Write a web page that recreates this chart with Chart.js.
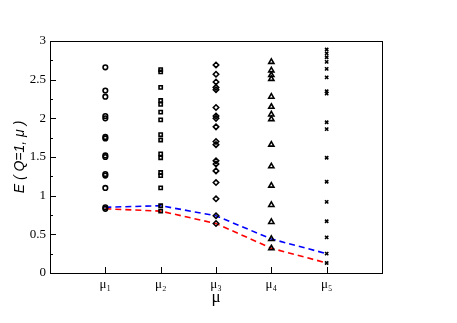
<!DOCTYPE html>
<html>
<head>
<meta charset="utf-8">
<script src="https://cdn.jsdelivr.net/npm/chart.js@4/dist/chart.umd.min.js"></script>
<style>
html,body{margin:0;padding:0;background:#fff;}
#wrap{width:457px;height:323px;}
</style>
</head>
<body>
<div id="wrap"><canvas id="c" width="457" height="323"></canvas></div>
<script>
const categories = ['μ₁','μ₂','μ₃','μ₄','μ₅'];
const yTicks = [0, 0.5, 1, 1.5, 2, 2.5, 3];
const mu1Levels = [2.66, 2.36, 2.28, 2.03, 2.0, 1.76, 1.74, 1.52, 1.50, 1.28, 1.26, 1.10, 0.85, 0.83];
const mu2Levels = [2.63, 2.60, 2.40, 2.23, 2.18, 2.08, 1.98, 1.79, 1.72, 1.54, 1.49, 1.30, 1.26, 1.10, 0.87, 0.80];
const mu3Levels = [2.69, 2.57, 2.47, 2.40, 2.37, 2.14, 2.03, 2.00, 1.89, 1.70, 1.66, 1.45, 1.41, 1.32, 1.17, 0.96, 0.74, 0.64];
const mu4Levels = [2.73, 2.62, 2.56, 2.51, 2.28, 2.15, 2.05, 1.99, 1.66, 1.38, 1.13, 0.88, 0.66, 0.44, 0.32];
const mu5Levels = [2.89, 2.84, 2.79, 2.73, 2.64, 2.53, 2.35, 2.32, 1.95, 1.86, 1.49, 1.18, 0.92, 0.67, 0.46, 0.25, 0.13];
const redLine = [0.83, 0.80, 0.64, 0.32, 0.13];
const blueLine = [0.85, 0.87, 0.74, 0.44, 0.25];

const columns = [mu1Levels, mu2Levels, mu3Levels, mu4Levels, mu5Levels];
const styles = ['circle', 'rect', 'rectRot', 'triangle', 'crossRot'];
const radii = [2.3, 2.3, 2.7, 3.0, 2.3];

const datasets = [];
datasets.push({
  type: 'line', data: redLine.map((v, i) => ({x: i + 1, y: v})),
  borderColor: '#ff0000', borderWidth: 1.6, borderDash: [6, 4],
  pointRadius: 0, fill: false, tension: 0, order: 2
});
datasets.push({
  type: 'line', data: blueLine.map((v, i) => ({x: i + 1, y: v})),
  borderColor: '#0000ff', borderWidth: 1.6, borderDash: [6, 4],
  pointRadius: 0, fill: false, tension: 0, order: 2
});
columns.forEach((col, i) => {
  datasets.push({
    type: 'scatter', data: col.map(v => ({x: i + 1, y: v})),
    pointStyle: styles[i], pointRadius: radii[i], pointBorderWidth: 1.6,
    borderColor: '#000', backgroundColor: 'rgba(0,0,0,0)', order: 1
  });
});

const framePlugin = {
  id: 'frame',
  afterDraw(chart) {
    const ctx = chart.ctx, a = chart.chartArea;
    const xs = chart.scales.x, ys = chart.scales.y;
    ctx.save();
    ctx.strokeStyle = '#000';
    ctx.lineWidth = 1;
    ctx.strokeRect(Math.round(a.left) + 0.5, Math.round(a.top) + 0.5, Math.round(a.right - a.left), Math.round(a.bottom - a.top));
    ctx.beginPath();
    for (let v = 0; v <= 3.0001; v += 0.25) {
      const y = Math.round(ys.getPixelForValue(v)) + 0.5;
      const major = Math.abs(v * 2 - Math.round(v * 2)) < 1e-6;
      ctx.moveTo(a.left, y);
      ctx.lineTo(a.left + (major ? 6 : 3), y);
    }
    for (let i = 1; i <= categories.length; i++) {
      const x = Math.round(xs.getPixelForValue(i)) + 0.5;
      ctx.moveTo(x, a.bottom);
      ctx.lineTo(x, a.bottom - 6);
    }
    ctx.stroke();
    ctx.restore();
  }
};

new Chart(document.getElementById('c'), {
  data: { datasets },
  options: {
    responsive: false,
    animation: false,
    layout: { padding: { top: 41, right: 75, bottom: 0, left: 0 } },
    plugins: { legend: { display: false }, tooltip: { enabled: false } },
    scales: {
      x: {
        type: 'linear', min: 0, max: 6,
        afterFit(s) { s.height = 50; },
        afterBuildTicks(s) { s.ticks = [0,1,2,3,4,5,6].map(v => ({value: v})); },
        grid: { display: false, drawTicks: false },
        border: { display: false },
        ticks: {
          padding: 4, color: '#000',
          font: { family: 'Liberation Serif, DejaVu Serif, serif', size: 13 },
          callback: v => (v >= 1 && v <= categories.length) ? categories[v - 1] : ''
        },
        title: {
          display: true, text: 'μ', color: '#000',
          font: { family: 'Liberation Serif, DejaVu Serif, serif', size: 17 },
          padding: { top: 0, bottom: 15 }
        }
      },
      y: {
        type: 'linear', min: 0, max: 3,
        afterFit(s) { s.width = 50; },
        afterBuildTicks(s) { s.ticks = yTicks.map(v => ({value: v})); },
        grid: { display: false, drawTicks: false },
        border: { display: false },
        ticks: {
          padding: 4, color: '#000',
          font: { family: 'Liberation Serif, DejaVu Serif, serif', size: 13 },
          callback: v => String(v)
        },
        title: {
          display: true, text: 'E ( Q=1, μ )', color: '#000',
          font: { family: 'Liberation Sans, Arial, sans-serif', size: 14, style: 'italic' },
          padding: { top: 12, bottom: 0 }
        }
      }
    }
  },
  plugins: [framePlugin]
});
</script>
</body>
</html>
